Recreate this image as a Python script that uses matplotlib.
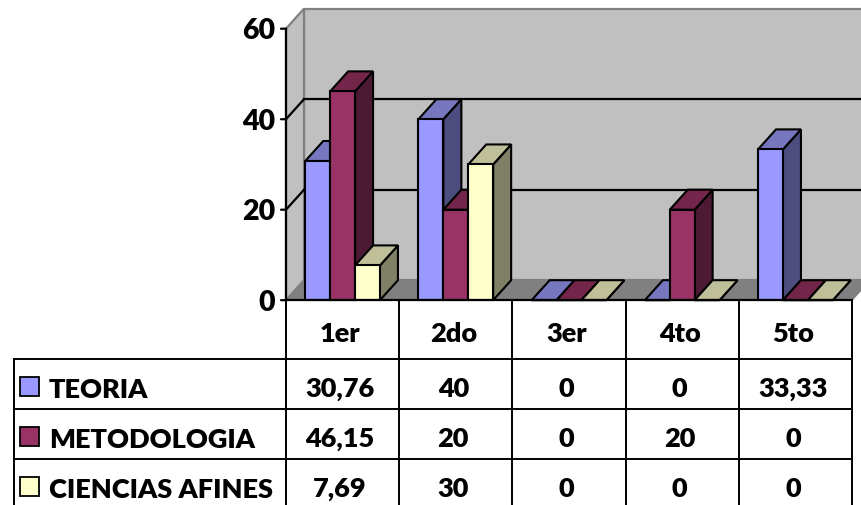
import matplotlib
matplotlib.use("Agg")
import matplotlib.pyplot as plt
from matplotlib.patches import Polygon, Rectangle

plt.rcParams['font.family'] = ['Lato', 'DejaVu Sans']

categories = ['1er', '2do', '3er', '4to', '5to']
series_names = ['TEORIA', 'METODOLOGIA', 'CIENCIAS AFINES']
teoria = [30.76, 40, 0, 0, 33.33]
metodologia = [46.15, 20, 0, 20, 0]
ciencias = [7.69, 30, 0, 0, 0]
value_labels = [['30,76', '40', '0', '0', '33,33'],
                ['46,15', '20', '0', '20', '0'],
                ['7,69', '30', '0', '0', '0']]
yticks = [0, 20, 40, 60]

front = ['#9999FF', '#993366', '#FFFFCC']
top = ['#7777C0', '#732649', '#BFBF99']
side = ['#4D4D80', '#4D1A33', '#808066']

W, H = 862, 506
fig = plt.figure(figsize=(W / 100, H / 100), dpi=100, facecolor='white')

# pixel layout
X0, X1 = 286.0, 852.0
Y0, Y60 = 301.2, 29.7
ax = fig.add_axes([X0 / W, 1 - Y0 / H, (X1 - X0) / W, (Y0 - Y60) / H])
ax.set_xlim(0, 5)
ax.set_ylim(0, 60)
ax.axis('off')

DX = 18 / ((X1 - X0) / 5)
DY = 20 / ((Y0 - Y60) / 60)
BAR_W = 0.22
BAR_OFF = 0.17
WEIGHT = 'heavy'


def poly(pts, fc, ec, lw, z):
    ax.add_patch(Polygon(pts, closed=True, facecolor=fc, edgecolor=ec, linewidth=lw,
                         zorder=z, clip_on=False, joinstyle='miter'))


# walls and floor
poly([(DX, DY), (5 + DX, DY), (5 + DX, 60 + DY), (DX, 60 + DY)], '#C0C0C0', '#808080', 1.6, 1)
poly([(0, 0), (DX, DY), (DX, 60 + DY), (0, 60)], '#C0C0C0', '#808080', 1.6, 1)
poly([(0, 0), (5, 0), (5 + DX, DY), (DX, DY)], '#808080', '#808080', 1.0, 1)

# gridlines
for v in yticks[1:]:
    lw = 1.6
    if v < 60:
        ax.plot([DX, 5 + DX], [v + DY, v + DY], color='black', lw=lw, zorder=2, clip_on=False)
        ax.plot([0, DX], [v, v + DY], color='black', lw=lw, zorder=2, clip_on=False)

# value axis
ax.plot([0, 0], [0, 60], color='black', lw=1.6, zorder=3, clip_on=False)
for v in yticks:
    ax.annotate('', xy=(0, v), xytext=(-5, 0), textcoords='offset pixels',
                arrowprops=dict(arrowstyle='-', lw=1.6, color='black', shrinkA=0, shrinkB=0))
    ax.annotate(str(v), xy=(0, v), xytext=(-11, -1.5), textcoords='offset pixels',
                ha='right', va='center', fontsize=20.5, fontweight=WEIGHT, color='black',
                annotation_clip=False)

# bars
z = 4
for c in range(len(categories)):
    for s, vals in enumerate([teoria, metodologia, ciencias]):
        x = c + BAR_OFF + s * BAR_W
        v = vals[c]
        xr = x + BAR_W
        poly([(xr, 0), (xr + DX, DY), (xr + DX, v + DY), (xr, v)], side[s], 'black', 1.5, z)
        poly([(x, v), (xr, v), (xr + DX, v + DY), (x + DX, v + DY)], top[s], 'black', 1.5, z)
        poly([(x, 0), (xr, 0), (xr, v), (x, v)], front[s], 'black', 1.5, z)
        z += 1

# data table overlay in pixel coordinates
tb = fig.add_axes([0, 0, 1, 1], zorder=5)
tb.set_xlim(0, W)
tb.set_ylim(H, 0)
tb.axis('off')
tb.patch.set_alpha(0)

col_x = [X0 + i * (X1 - X0) / 5 for i in range(6)]
row_y = [360.0, 410.0, 460.0]
LEFT = 14.0
tb.plot([X0, X1], [Y0, Y0], color='black', lw=1.6)
for ry in row_y:
    tb.plot([LEFT, X1], [ry, ry], color='black', lw=1.4)
for cx in col_x:
    tb.plot([cx, cx], [Y0, H], color='black', lw=1.4)
tb.plot([LEFT, LEFT], [row_y[0], H], color='black', lw=1.4)
tb.set_xlim(0, W)
tb.set_ylim(H, 0)

FS = 19.5
TEXT_SHIFT = -2.5
for i, cat in enumerate(categories):
    tb.text((col_x[i] + col_x[i + 1]) / 2 + TEXT_SHIFT, 334.5, cat, ha='center', va='center',
            fontsize=FS, fontweight=WEIGHT)
baselines = [398, 448, 498]
for r, name in enumerate(series_names):
    key_top = row_y[r] + 18
    tb.add_patch(Rectangle((20, key_top), 19, 19, facecolor=front[r], edgecolor='black', lw=1.3))
    tb.text(49, baselines[r], name, ha='left', va='baseline', fontsize=FS, fontweight=WEIGHT)
    for i, lab in enumerate(value_labels[r]):
        tb.text((col_x[i] + col_x[i + 1]) / 2 + TEXT_SHIFT, baselines[r] - 1, lab, ha='center',
                va='baseline', fontsize=FS, fontweight=WEIGHT)

fig.savefig('out.png', dpi=100)
